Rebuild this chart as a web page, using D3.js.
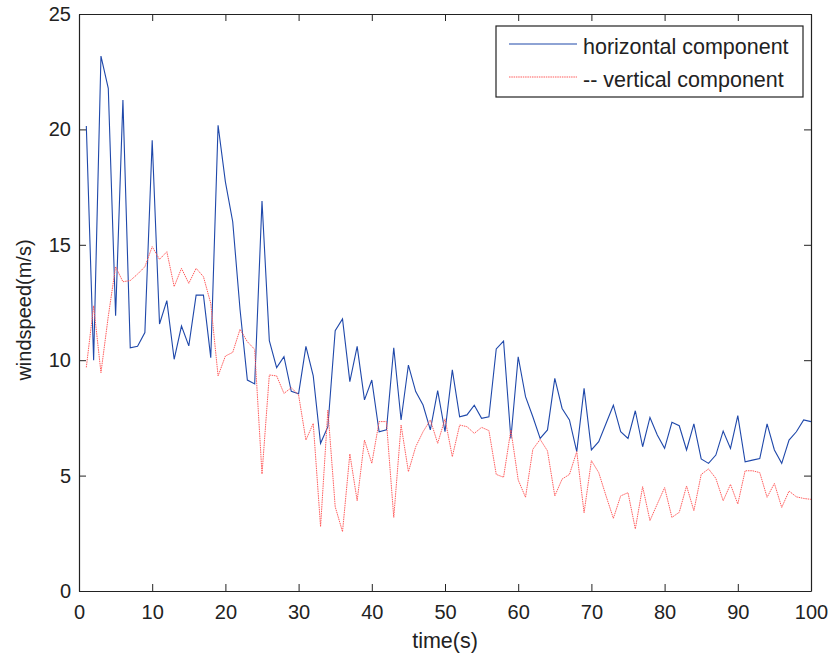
<!DOCTYPE html>
<html>
<head>
<meta charset="utf-8">
<script src="https://cdn.jsdelivr.net/npm/d3@7"></script>
<style>
  body { margin: 0; background: #fff; }
  text { font-family: "Liberation Sans", Arial, sans-serif; fill: #222; }
  .axis path, .axis line { stroke: #222; }
</style>
</head>
<body>
<div id="vis"></div>
<script>
// time in seconds, 1..100
const timeS = d3.range(1, 101);

const horizontal = [
  20.15, 10.0, 23.18, 21.78, 11.93, 21.27, 10.54, 10.6, 11.2, 19.53,
  11.57, 12.58, 10.04, 11.48, 10.62, 12.82, 12.82, 10.11, 20.18, 17.73,
  16.0, 12.2, 9.14, 8.97, 16.9, 10.85, 9.68, 10.15, 8.65, 8.55,
  10.6, 9.32, 6.4, 7.12, 11.28, 11.79, 9.07, 10.6, 8.28, 9.14,
  6.9, 6.98, 10.54, 7.41, 9.79, 8.64, 8.06, 6.98, 8.68, 6.9,
  9.58, 7.55, 7.63, 8.05, 7.48, 7.55, 10.49, 10.83, 6.61, 10.15,
  8.42, 7.55, 6.61, 6.98, 9.21, 7.91, 7.41, 6.04, 8.78, 6.11,
  6.47, 7.26, 8.05, 6.9, 6.61, 7.81, 6.25, 7.52, 6.76, 6.18,
  7.31, 7.16, 6.11, 7.24, 5.72, 5.53, 5.89, 6.93, 6.18, 7.6,
  5.6, 5.67, 5.74, 7.24, 6.11, 5.53, 6.54, 6.9, 7.41, 7.34
];

const vertical = [
  9.69, 12.36, 9.46, 11.9, 14.05, 13.4, 13.45, 13.73, 14.05, 14.92,
  14.37, 14.7, 13.19, 13.98, 13.33, 13.98, 13.62, 12.46, 9.32, 10.18,
  10.34, 11.34, 10.8, 10.47, 5.07, 9.36, 9.32, 8.56, 8.81, 8.49,
  6.54, 7.26, 2.79, 7.84, 3.65, 2.57, 5.94, 3.91, 6.54, 5.53,
  7.34, 7.34, 3.19, 7.19, 5.17, 6.25, 6.9, 7.41, 6.4, 7.46,
  5.82, 7.19, 7.12, 6.83, 7.09, 6.95, 5.05, 4.93, 6.98, 4.81,
  4.06, 6.14, 6.57, 6.07, 4.12, 4.85, 5.05, 6.04, 3.39, 5.65,
  5.13, 4.12, 3.15, 4.12, 4.26, 2.69, 4.52, 3.05, 3.77, 4.48,
  3.19, 3.41, 4.55, 3.48, 5.05, 5.29, 4.88, 3.91, 4.62, 3.77,
  5.21, 5.21, 5.13, 4.06, 4.66, 3.62, 4.33, 4.08, 4.01, 3.97
];

const xTicks = [0, 10, 20, 30, 40, 50, 60, 70, 80, 90, 100];
const yTicks = [0, 5, 10, 15, 20, 25];
const legendLabels = ["horizontal component", "-- vertical component"];

const W = 833, H = 653;
const margin = {top: 14, right: 22, bottom: 62, left: 79};
const width = W - margin.left - margin.right,
      height = H - margin.top - margin.bottom;

const blue = "#1f48aa", red = "#ff5c5c";

const svg = d3.select("#vis").append("svg")
    .attr("width", W).attr("height", H);

const g = svg.append("g")
    .attr("transform", "translate(" + margin.left + "," + margin.top + ")");

let x = d3.scaleLinear().domain([0, 100]).range([0, width]);
let y = d3.scaleLinear().domain([0, 25]).range([height, 0]);

////////// axes //////////

const tickFs = "20px", labelFs = "21.5px";

g.append("g").attr("class", "axis")
    .attr("transform", "translate(0," + height + ")")
    .call(d3.axisBottom(x).tickValues(xTicks).tickSize(-7).tickSizeOuter(0).tickPadding(14))
    .selectAll("text").style("font-size", tickFs);

g.append("g").attr("class", "axis")
    .call(d3.axisTop(x).tickValues(xTicks).tickSize(-7).tickSizeOuter(0).tickFormat(""));

g.append("g").attr("class", "axis")
    .call(d3.axisLeft(y).tickValues(yTicks).tickSize(-7).tickSizeOuter(0).tickPadding(8))
    .selectAll("text").style("font-size", tickFs);

g.append("g").attr("class", "axis")
    .attr("transform", "translate(" + width + ",0)")
    .call(d3.axisRight(y).tickValues(yTicks).tickSize(-7).tickSizeOuter(0).tickFormat(""));

g.selectAll(".axis .domain").attr("stroke-width", 1.2);

////////// lines //////////

const line = d3.line()
    .x((d, i) => x(timeS[i]))
    .y(d => y(d));

g.append("path")
    .datum(horizontal)
    .attr("fill", "none")
    .attr("stroke", blue)
    .attr("stroke-width", 1.1)
    .attr("d", line);

g.append("path")
    .datum(vertical)
    .attr("fill", "none")
    .attr("stroke", red)
    .attr("stroke-width", 1)
    .attr("stroke-dasharray", "1.5,0.8")
    .attr("d", line);

////////// labels //////////

svg.append("text")
    .attr("x", margin.left + width / 2)
    .attr("y", 648)
    .attr("text-anchor", "middle")
    .style("font-size", labelFs)
    .text("time(s)");

svg.append("text")
    .attr("transform", "translate(31,310) rotate(-90)")
    .attr("text-anchor", "middle")
    .style("font-size", "20px")
    .text("windspeed(m/s)");

////////// legend //////////

const legend = svg.append("g").attr("transform", "translate(496,26)");
legend.append("rect")
    .attr("width", 307).attr("height", 71)
    .attr("fill", "#fff").attr("stroke", "#222").attr("stroke-width", 1.2);

const colors = [blue, red];
legendLabels.forEach((lbl, i) => {
    legend.append("line")
        .attr("x1", 13).attr("x2", 81)
        .attr("y1", 18 + i * 33).attr("y2", 18 + i * 33)
        .attr("stroke", colors[i])
        .attr("stroke-width", 1.1)
        .attr("stroke-dasharray", i === 1 ? "1.5,0.8" : null);
    legend.append("text")
        .attr("x", 87).attr("y", 28 + i * 33)
        .style("font-size", labelFs)
        .text(lbl);
});
</script>
</body>
</html>
